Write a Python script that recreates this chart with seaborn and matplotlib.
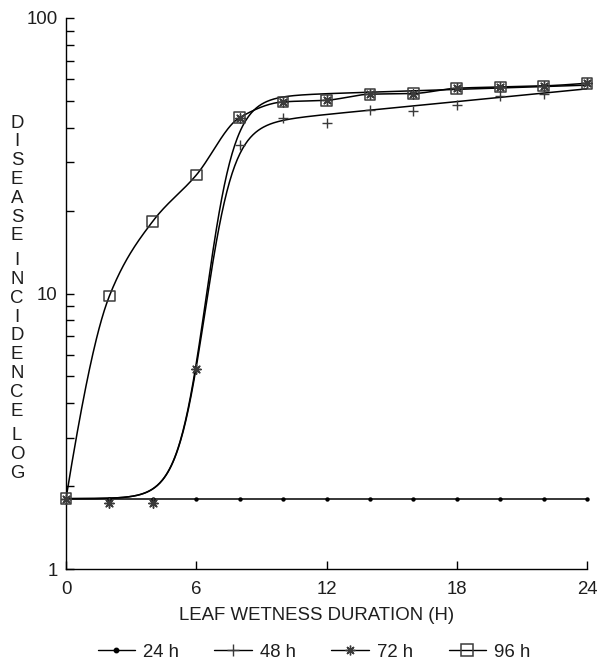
import numpy as np
import pandas as pd
import matplotlib
matplotlib.use("Agg")
import matplotlib.pyplot as plt
import seaborn as sns
from matplotlib.lines import Line2D
from matplotlib.ticker import FixedLocator, NullFormatter

# ---------------- data ----------------
hours = [0, 2, 4, 6, 8, 10, 12, 14, 16, 18, 20, 22, 24]
inc_24h = [1.8, 1.8, 1.8, 1.8, 1.8, 1.8, 1.8, 1.8, 1.8, 1.8, 1.8, 1.8, 1.8]
inc_48h = [1.8, 1.74, 1.74, 5.3, 34.7, 43.5, 41.6, 46.3, 46.0, 48.4, 52.2, 53.0, 58.0]
inc_72h = [1.8, 1.74, 1.74, 5.34, 43.5, 49.6, 50.3, 52.9, 53.2, 55.6, 56.2, 56.7, 58.0]
inc_96h = [1.8, 9.8, 18.3, 26.9, 43.5, 49.6, 50.3, 52.9, 53.2, 55.6, 56.2, 56.7, 58.0]
series_labels = ["24 h", "48 h", "72 h", "96 h"]
x_ticks = [0, 6, 12, 18, 24]
y_ticks = [1, 10, 100]
x_label = "LEAF WETNESS DURATION (H)"
y_label = "DISEASE INCIDENCE LOG"

# ---------------- fitted curves ----------------
def pchip(x, y, xs):
    x = np.asarray(x, float); y = np.asarray(y, float)
    h = np.diff(x); d = np.diff(y) / h
    m = np.zeros_like(y)
    for k in range(1, len(x) - 1):
        if d[k - 1] * d[k] > 0:
            w1 = 2 * h[k] + h[k - 1]; w2 = h[k] + 2 * h[k - 1]
            m[k] = (w1 + w2) / (w1 / d[k - 1] + w2 / d[k])
    def end(h0, h1, d0, d1):
        mm = ((2 * h0 + h1) * d0 - h0 * d1) / (h0 + h1)
        if np.sign(mm) != np.sign(d0):
            mm = 0.0
        elif np.sign(d0) != np.sign(d1) and abs(mm) > abs(3 * d0):
            mm = 3 * d0
        return mm
    m[0] = end(h[0], h[1], d[0], d[1])
    m[-1] = end(h[-1], h[-2], d[-1], d[-2])
    idx = np.clip(np.searchsorted(x, xs, side="right") - 1, 0, len(h) - 1)
    t = (xs - x[idx]) / h[idx]
    h00 = 2 * t**3 - 3 * t**2 + 1
    h10 = t**3 - 2 * t**2 + t
    h01 = -2 * t**3 + 3 * t**2
    h11 = t**3 - t**2
    return h00 * y[idx] + h10 * h[idx] * m[idx] + h01 * y[idx + 1] + h11 * h[idx] * m[idx + 1]

def logistic_fit(x, ly, xs, k_max=1.5):
    """log10(y) = a + (b + c*x) / (1 + exp(-k (x - x0))); a = initial level,
    b, c by least squares, rate k <= k_max and midpoint x0 by grid search."""
    x = np.asarray(x, float); ly = np.asarray(ly, float)
    a = ly[0]
    r_ = ly - a
    best = None
    for k in np.linspace(0.3, k_max, 61):
        for x0 in np.linspace(0.0, 14.0, 281):
            s = 1.0 / (1.0 + np.exp(-k * (x - x0)))
            A = np.column_stack([s, s * x])
            coef = np.linalg.lstsq(A, r_, rcond=None)[0]
            r = np.sum((A @ coef - r_) ** 2)
            if best is None or r < best[0]:
                best = (r, k, x0, coef)
    _, k, x0, (b, c) = best
    s = 1.0 / (1.0 + np.exp(-k * (xs - x0)))
    return a + (b + c * xs) * s

grid = np.linspace(hours[0], hours[-1], 600)
fit_method = {"24 h": "pchip", "48 h": "logistic", "72 h": "logistic", "96 h": "pchip"}
all_series = [inc_24h, inc_48h, inc_72h, inc_96h]
curve_frames = []
for lab, vals in zip(series_labels, all_series):
    logv = np.log10(vals)
    if fit_method[lab] == "logistic":
        fit = 10 ** logistic_fit(hours, logv, grid)
    else:
        fit = 10 ** pchip(hours, logv, grid)
    curve_frames.append(pd.DataFrame({"hours": grid, "incidence": fit, "series": lab}))
curves = pd.concat(curve_frames, ignore_index=True)
points = pd.DataFrame({
    "hours": hours * 4,
    "incidence": inc_24h + inc_48h + inc_72h + inc_96h,
    "series": sum([[s] * len(hours) for s in series_labels], []),
})

# ---------------- style ----------------
sns.set_style("ticks")
plt.rcParams["font.family"] = ["Liberation Sans", "DejaVu Sans"]
FS = 13.4
tcol = "#1e1e1e"
mcol = "#3a3a3a"

fig = plt.figure(figsize=(6.0, 6.64), dpi=100)
W, H = 600, 664
ax = fig.add_axes([66 / W, 1 - 569 / H, 521 / W, 551 / H])

sns.lineplot(data=curves, x="hours", y="incidence", units="series", estimator=None,
             color="black", lw=1.1, ax=ax, legend=False)

marker_specs = {
    "24 h": dict(marker="o", s=10, color="black", linewidths=0),
    "48 h": dict(marker="+", s=60, color=mcol, linewidths=1.0),
    "72 h": dict(marker=(8, 2, 0), s=45, color=mcol, linewidths=1.0),
    "96 h": dict(marker="s", s=60, facecolors="none", edgecolors=mcol, linewidths=1.1),
}
for lab in series_labels:
    sub = points[points["series"] == lab]
    sns.scatterplot(data=sub, x="hours", y="incidence", ax=ax, clip_on=False,
                    zorder=3, legend=False, **marker_specs[lab])

ax.set_yscale("log")
ax.set_xlim(0, 24)
ax.set_ylim(1, 100)
sns.despine(ax=ax)
for sp in ["left", "bottom"]:
    ax.spines[sp].set_linewidth(1.0)
    ax.spines[sp].set_color("black")

ax.xaxis.set_major_locator(FixedLocator(x_ticks))
ax.set_xticklabels([str(t) for t in x_ticks])
ax.yaxis.set_major_locator(FixedLocator(y_ticks))
ax.set_yticklabels([str(t) for t in y_ticks])
minor = [m * d for d in (1, 10) for m in range(2, 10)]
ax.yaxis.set_minor_locator(FixedLocator(minor))
ax.yaxis.set_minor_formatter(NullFormatter())
ax.tick_params(axis="both", which="both", direction="in", length=6, width=1.0,
               color="black", labelsize=FS, labelcolor=tcol)
ax.tick_params(axis="x", pad=9)
ax.tick_params(axis="y", pad=6)
ax.set_xlabel("")
ax.set_ylabel("")

fig.text(317 / W, 1 - 616 / H, x_label, ha="center", va="center", fontsize=FS, color=tcol)

# stacked vertical y label
y = 123.0
for ch in y_label:
    if ch == " ":
        y += 6
        continue
    fig.text(17 / W, 1 - y / H, ch, ha="center", va="center", fontsize=FS, color=tcol)
    y += 18.8

handles = []
for lab in series_labels:
    if lab == "96 h":
        h = Line2D([], [], color="black", lw=1.0, marker="s", markersize=8,
                   markerfacecolor="none", markeredgecolor=mcol, markeredgewidth=1.1)
    elif lab == "24 h":
        h = Line2D([], [], color="black", lw=1.0, marker="o", markersize=3.2)
    elif lab == "48 h":
        h = Line2D([], [], color="black", lw=1.0, marker="+", markersize=8,
                   markeredgecolor=mcol, markeredgewidth=1.0)
    else:
        h = Line2D([], [], color="black", lw=1.0, marker=(8, 2, 0), markersize=7,
                   markeredgecolor=mcol, markeredgewidth=1.0)
    handles.append(h)
fig.legend(handles, series_labels, loc="center", bbox_to_anchor=(314 / W, 1 - 652 / H),
           ncol=4, frameon=False, fontsize=FS, handlelength=2.0, handletextpad=0.45,
           columnspacing=1.9, labelcolor=tcol, borderpad=0, borderaxespad=0)

fig.savefig("out.png", dpi=100)
